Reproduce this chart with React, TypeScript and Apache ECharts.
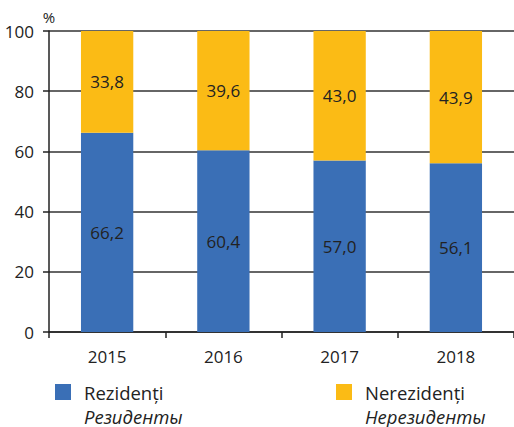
import React, { useEffect, useRef } from "react";
import * as echarts from "echarts";

const years = ["2015", "2016", "2017", "2018"];
const residents = [66.2, 60.4, 57.0, 56.1];
const nonResidents = [33.8, 39.6, 43.0, 43.9];
const yTicks = [0, 20, 40, 60, 80, 100];
const legendNames = [
  ["Rezidenți", "Резиденты"],
  ["Nerezidenți", "Нерезиденты"],
];

const BLUE = "#3a6fb6";
const YELLOW = "#fbbb15";
const FONT = "'Open Sans', 'Noto Sans', sans-serif";
const FS = 17;
const LFS = 18.5;
const fmt = (v: number) => v.toFixed(1).replace(".", ",");

export default function App() {
  const ref = useRef<HTMLDivElement>(null);
  useEffect(() => {
    if (!ref.current) return;
    const chart = echarts.init(ref.current, undefined, { renderer: "svg" });
    const labelStyle = {
      show: true,
      position: "inside" as const,
      color: "#222",
      fontSize: FS,
      fontFamily: FONT,
      formatter: (p: any) => fmt(p.value),
    };
    chart.setOption({
      animation: false,
      textStyle: { fontFamily: FONT },
      grid: { left: 49, right: -3, top: 31, bottom: 95 },
      xAxis: {
        type: "category",
        data: years,
        axisLine: { lineStyle: { color: "#222", width: 1.5 } },
        axisTick: { show: true, length: 6, lineStyle: { color: "#222", width: 1.5 } },
        axisLabel: { color: "#222", fontSize: FS, margin: 16, fontFamily: FONT },
      },
      yAxis: {
        type: "value",
        min: 0,
        max: 100,
        interval: 20,
        name: "%",
        nameLocation: "end",
        nameGap: 7,
        nameTextStyle: { color: "#222", fontSize: 15, fontFamily: FONT, align: "center" },
        axisLine: { show: true, lineStyle: { color: "#222", width: 1.5 } },
        axisTick: { show: true, length: 6, lineStyle: { color: "#222", width: 1.5 } },
        axisLabel: {
          color: "#222",
          fontSize: FS,
          margin: 15,
          fontFamily: FONT,
          formatter: (v: number) => (yTicks.includes(v) ? String(v) : ""),
        },
        splitLine: { show: true, lineStyle: { color: "#333", width: 1.5 } },
      },
      series: [
        {
          name: legendNames[0][0],
          type: "bar",
          stack: "total",
          data: residents,
          barWidth: "45%",
          itemStyle: { color: BLUE },
          label: labelStyle,
        },
        {
          name: legendNames[1][0],
          type: "bar",
          stack: "total",
          data: nonResidents,
          barWidth: "45%",
          itemStyle: { color: YELLOW },
          label: labelStyle,
        },
      ],
      graphic: [
        { type: "rect", shape: { x: 55, y: 384, width: 16, height: 16 }, style: { fill: BLUE } },
        {
          type: "text",
          x: 84,
          y: 392,
          style: { text: legendNames[0][0], fill: "#222", font: `${LFS}px ${FONT}`, verticalAlign: "middle" },
        },
        {
          type: "text",
          x: 84,
          y: 416,
          style: { text: legendNames[0][1], fill: "#222", font: `italic ${LFS}px ${FONT}`, verticalAlign: "middle" },
        },
        { type: "rect", shape: { x: 336, y: 384, width: 16, height: 16 }, style: { fill: YELLOW } },
        {
          type: "text",
          x: 365,
          y: 392,
          style: { text: legendNames[1][0], fill: "#222", font: `${LFS}px ${FONT}`, verticalAlign: "middle" },
        },
        {
          type: "text",
          x: 365,
          y: 416,
          style: { text: legendNames[1][1], fill: "#222", font: `italic ${LFS}px ${FONT}`, verticalAlign: "middle" },
        },
      ],
    });
    return () => chart.dispose();
  }, []);
  return <div ref={ref} style={{ width: 514, height: 427, position: "absolute", left: 0, top: 0 }} />;
}
